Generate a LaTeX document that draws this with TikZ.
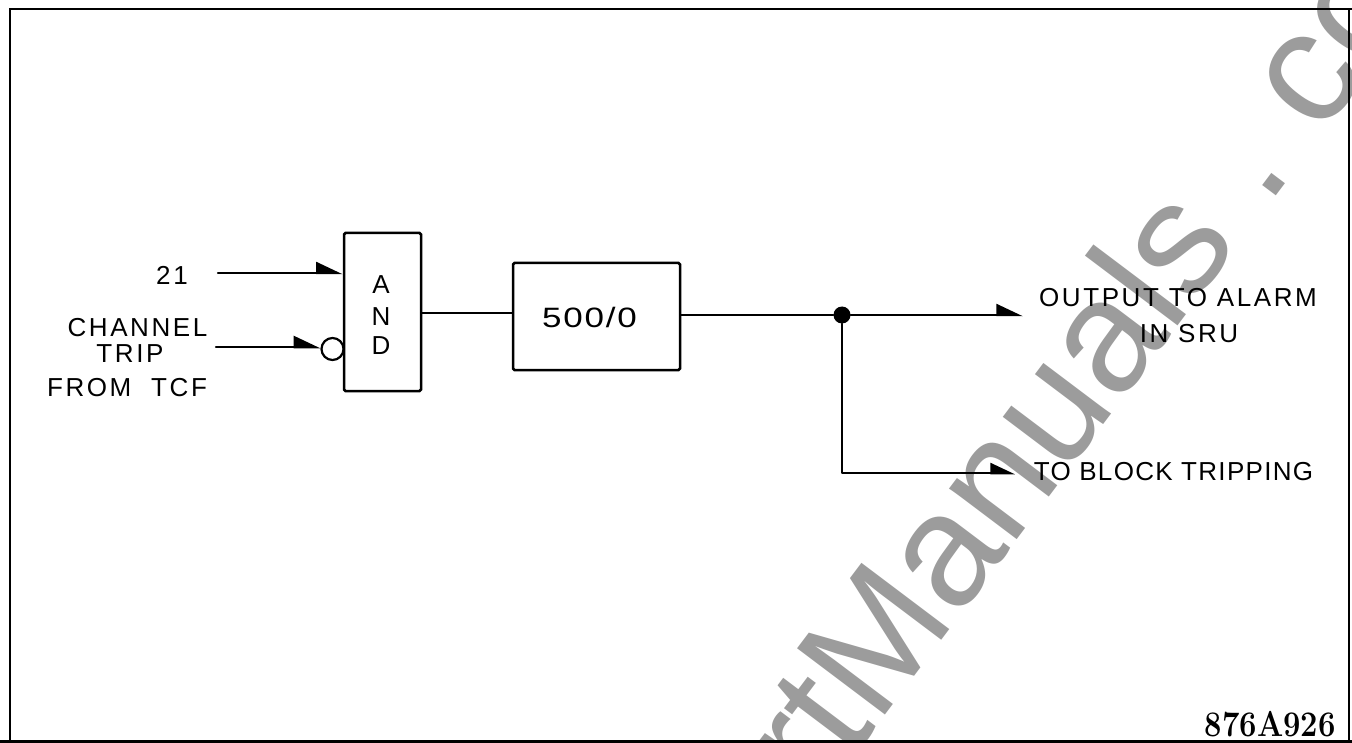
\documentclass[tikz,border=0pt]{standalone}
\usepackage{fontspec}
\usetikzlibrary{arrows.meta,calc}
\newfontfamily\lblfont[LetterSpace=10]{Liberation Sans}
\newfontfamily\lblfontb[LetterSpace=5]{Liberation Sans}
\newfontfamily\lblfontc[LetterSpace=5]{Liberation Sans}
\newfontfamily\wmfont{Liberation Sans}
\definecolor{wmgray}{gray}{0.61}
\tikzset{
  x=1pt,y=-1pt,
  wire/.style={line width=2.5pt,line cap=round,line join=round},
  barb/.style={wire,-{Stealth[harpoon,length=24pt,width=22pt,inset=0pt]}},
  barbtwo/.style={wire,-{Stealth[harpoon,length=22pt,width=20pt,inset=0pt]}},
  gatebox/.style={draw,line width=2.5pt,rounded corners=1.5pt,minimum width=77pt,minimum height=158pt,inner sep=0pt,fill=white},
  delaybox/.style={draw,line width=2.5pt,rounded corners=1.5pt,minimum width=167pt,minimum height=107pt,inner sep=0pt,fill=white},
  lbl/.style={font=\lblfont\fontsize{26}{26}\selectfont,inner sep=0pt},
  lblb/.style={font=\lblfontb\fontsize{26}{26}\selectfont,inner sep=0pt},
  lblc/.style={font=\lblfontc\fontsize{28}{28}\selectfont,inner sep=0pt,transform shape,xscale=1.25},
  bubble/.style={circle,draw,line width=2.2pt,minimum size=22pt,inner sep=0pt,fill=white},
  junction/.style={circle,fill=black,minimum size=17pt,inner sep=0pt},
  mark text/.style={font=\bfseries\fontsize{36}{36}\selectfont,inner sep=0pt,transform shape,xscale=0.86},
  watermark/.style={font=\wmfont\fontsize{160}{160}\selectfont,text=wmgray,inner sep=0pt,rotate=53,anchor=base west}
}
\begin{document}
\begin{tikzpicture}
\useasboundingbox (0,0) rectangle (1352,743);
\begin{scope}
\clip (0,0) rectangle (1352,743);
\node[watermark] (wm) at (754,889) {ArtManuals .\hspace{-17pt} com};
\end{scope}
% frame
\draw[line width=2.5pt] (10,743) -- (10,9) -- (1352,9);
\draw[line width=2.5pt] (1349,9) -- (1349,743);
\draw[line width=2.5pt] (0,741.5) -- (1352,741.5);
% boxes
\node[gatebox] (and) at (382.5,312) {};
\node[delaybox] (delay) at (596.5,316.5) {};
\node[lbl] (a1) at (381,285) {A};
\node[lbl] (a2) at (381,317) {N};
\node[lbl] (a3) at (381,346) {D};
\node[lblc] (dl) at (589.5,317) {500/0};
\node[bubble] (inv) at (332.5,349) {};
\node[junction] (dot) at (842,315) {};
% free ends
\coordinate (in1) at (218,273);
\coordinate (in2) at (216,347);
\coordinate (out1) at (1023,315);
\coordinate (out2) at (1015,473);
% connectors
\draw[barb] (in1) -- (in1 -| and.west);
\draw[barb] (in2) -- (inv.west |- in2);
\draw[wire] (and.east |- 0,313) -- (delay.west |- 0,313);
\draw[wire] (delay.east |- dot) -- (dot);
\draw[barb] (dot) -- (out1);
\draw[barbtwo] (dot) -- (dot |- out2) -- (out2);
% labels
\node[lbl] (l21) at (172,275) {21};
\node[lbl] (l1) at (137.5,328) {CHANNEL};
\node[lbl] (l2) at (130,354) {TRIP};
\node[lbl] (l3) at (127,388) {FROM\hspace{10pt} TCF};
\node[lbl] (o1) at (1178,298) {OUTPUT TO ALARM};
\node[lbl] (o2) at (1189,334) {IN SRU};
\node[lblb] (o3) at (1173.5,472) {TO BLOCK TRIPPING};
\node[mark text,anchor=south east] (id) at (1336,737) {876A926};
\end{tikzpicture}
\end{document}
